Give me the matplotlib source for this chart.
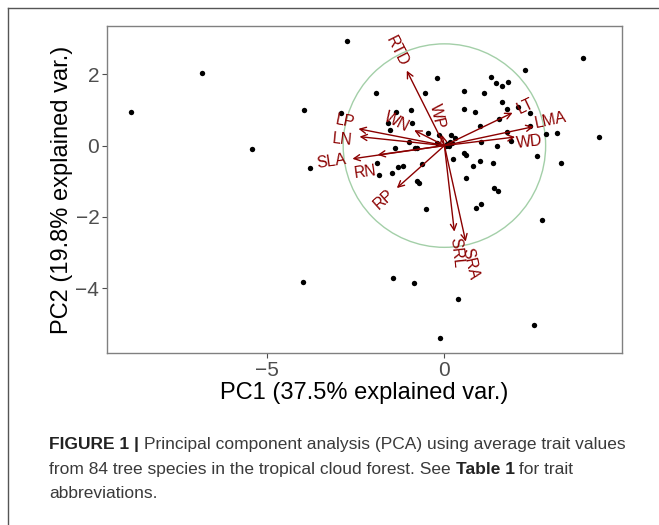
import numpy as np
import matplotlib
matplotlib.use("Agg")
import matplotlib.pyplot as plt
from matplotlib.patches import Circle
from matplotlib.lines import Line2D
from matplotlib import font_manager as fm

# sample scores (PC1, PC2)
pc1 = [-8.83, -6.83, -5.43, -3.95, -2.91, -3.79, -2.75, 3.90, 2.26, -0.21,
       1.30, 1.44, 1.63, 1.79, -1.94, -0.54, 0.55, 1.11, 1.61, -1.37,
       -0.94, 0.55, 0.86, 1.76, 2.08, 2.41, 1.55, 1.01, 2.42, -1.59,
       -1.53, -0.92, -0.46, -0.16, 0.18, 0.29, 0.04, 0.13, 0.15, -0.21,
       -0.99, -1.38, -0.83, -0.78, 2.86, 3.17, 4.35, 1.77, 1.88, 1.04,
       1.49, 2.61, 3.27, 0.25, 0.55, 0.60, 1.01, 0.80, 1.38, -0.62,
       -1.89, -1.31, -1.17, -1.85, -1.48, 0.61, -0.78, -0.72, 1.41, 1.50,
       -0.51, 0.88, 1.03, 2.76, -3.97, -1.45, -0.85, 0.39, 2.51, -0.12,
       0.08, 0.20]
pc2 = [0.94, 2.03, -0.09, 0.99, 0.91, -0.63, 2.93, 2.46, 2.11, 1.90,
       1.93, 1.75, 1.68, 1.79, 1.48, 1.48, 1.54, 1.48, 1.23, 0.94,
       1.00, 1.03, 0.94, 1.02, 1.07, 0.90, 0.75, 0.55, 0.55, 0.62,
       0.45, 0.64, 0.35, 0.30, 0.30, 0.22, 0.00, 0.00, 0.11, 0.07,
       0.10, -0.06, -0.06, -0.06, 0.33, 0.34, 0.25, 0.37, 0.13, 0.09,
       -0.01, -0.29, -0.49, -0.38, -0.21, -0.26, -0.42, -0.56, -0.49, -0.52,
       -0.50, -0.61, -0.56, -0.82, -0.76, -0.91, -0.98, -1.04, -1.18, -1.26,
       -1.78, -1.76, -1.65, -2.09, -3.81, -3.71, -3.84, -4.29, -5.02, -5.40,
       0.05, 0.06]

# trait loadings (arrow tips)
traits = ["RTD", "WP", "WN", "LP", "LN", "SLA", "RN", "RP", "SRL", "SRA", "LT", "LMA", "WD"]
load_pc1 = [-1.06, -0.07, -0.85, -2.42, -2.39, -2.59, -1.88, -1.34, 0.28, 0.60, 1.92, 2.51, 1.99]
load_pc2 = [2.10, 0.30, 0.43, 0.47, 0.25, -0.37, -0.26, -1.19, -2.41, -2.69, 0.92, 0.53, 0.24]

circle_r = 2.85
x_ticks = [-5, 0]
y_ticks = [-4, -2, 0, 2]

# label nudges in pixels (right, down) to match the published placement
nudge = {"LP": (2, -4.5), "LN": (-1.5, 5), "RN": (4.5, 14.5), "WD": (-5, 7.5), "LMA": (-5, -1.5)}

names = {f.name for f in fm.fontManager.ttflist}
PLOT_FONT = "Liberation Sans" if "Liberation Sans" in names else "DejaVu Sans"
CAP_FONT = "Liberation Sans Narrow" if "Liberation Sans Narrow" in names else PLOT_FONT
plt.rcParams["font.family"] = PLOT_FONT

W, H = 659, 525
fig = plt.figure(figsize=(W / 100, H / 100), dpi=100)
ax = fig.add_axes([107 / W, 1 - 353 / H, 515 / W, 327 / H])

ax.add_patch(Circle((0, 0), circle_r, fill=False, ec="#a3cfa8", lw=1.0, zorder=1))
ax.scatter(pc1, pc2, s=15, c="black", lw=0, zorder=2)

darkred = "#8b0000"
for name, x, y in zip(traits, load_pc1, load_pc2):
    ax.annotate("", xy=(x, y), xytext=(0, 0),
                arrowprops=dict(arrowstyle="->", color=darkred, lw=1.0,
                                mutation_scale=11, shrinkA=0, shrinkB=0), zorder=3)
    ang = np.degrees(np.arctan(y / x))
    u = np.array([x, y]) / np.hypot(x, y)
    gap = 4.5
    dx, dy = nudge.get(name, (0, 0))
    off = (u[0] * gap + dx * 0.72, u[1] * gap - dy * 0.72)
    ax.annotate(name, xy=(x, y), xytext=off, textcoords="offset points",
                ha="left" if x > 0 else "right", va="center",
                rotation=ang, rotation_mode="anchor", color=darkred,
                fontsize=11.3, zorder=4)

ax.set_xlim(-9.5, 5.0)
ax.set_ylim(-5.81, 3.35)
ax.set_xticks(x_ticks)
ax.set_yticks(y_ticks)
for s in ax.spines.values():
    s.set_color("#808080")
    s.set_linewidth(1.0)
ax.tick_params(length=3.5, width=0.8, color="#4d4d4d", labelcolor="#4d4d4d",
               labelsize=15, pad=2)
ax.set_xlabel("PC1 (37.5% explained var.)", fontsize=17, color="black", labelpad=1.5)
ax.set_ylabel("PC2 (19.8% explained var.)", fontsize=17, color="black", labelpad=2)

# outer figure frame (top and left edges visible)
fig.add_artist(Line2D([8 / W, 8 / W], [0, 1 - 8 / H], transform=fig.transFigure,
                      color="#555555", lw=1.0))
fig.add_artist(Line2D([8 / W, 1], [1 - 8 / H, 1 - 8 / H], transform=fig.transFigure,
                      color="#555555", lw=1.0))

# caption with bold runs
caption = [
    [("FIGURE 1 | ", "bold"), ("Principal component analysis (PCA) using average trait values", "normal")],
    [("from 84 tree species in the tropical cloud forest. See ", "normal"), ("Table 1", "bold"), (" for trait", "normal")],
    [("abbreviations.", "normal")],
]
baselines = [449, 474, 498]
r = fig.canvas.get_renderer()
for line, yb in zip(caption, baselines):
    x = 49
    for txt, wt in line:
        t = fig.text(x / W, 1 - yb / H, txt, fontsize=12.5, fontweight=wt,
                     family=CAP_FONT, color="#222222" if wt == "bold" else "#3a3a3a",
                     va="baseline", ha="left")
        x += t.get_window_extent(r).width

fig.savefig("out.png", dpi=100)
